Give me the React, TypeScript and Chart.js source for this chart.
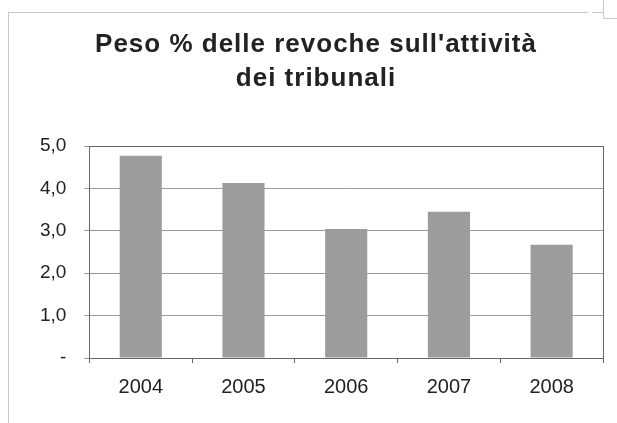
import { useEffect, useRef } from 'react';
import { Chart, registerables } from 'chart.js';

Chart.register(...registerables);

const years = ['2004', '2005', '2006', '2007', '2008'];
const pesoRevoche = [4.77, 4.13, 3.04, 3.45, 2.67];
const yTickLabels = ['-', '1,0', '2,0', '3,0', '4,0', '5,0'];
const titleLines = ["Peso % delle revoche sull'attività", 'dei tribunali'];

const FONT = '"Liberation Sans", Arial, sans-serif';

const framePlugin = {
  id: 'frame',
  beforeDraw(chart: any) {
    const { ctx, width, height } = chart;
    ctx.save();
    ctx.fillStyle = '#ffffff';
    ctx.fillRect(0, 0, width, height);
    ctx.strokeStyle = '#c8c8c8';
    ctx.lineWidth = 1;
    ctx.beginPath();
    ctx.moveTo(8.5, height);
    ctx.lineTo(8.5, 12.5);
    ctx.lineTo(588, 12.5);
    ctx.moveTo(592, 12.5);
    ctx.lineTo(603.5, 12.5);
    ctx.moveTo(603.5, 0);
    ctx.lineTo(603.5, 18.5);
    ctx.lineTo(width, 18.5);
    ctx.stroke();
    ctx.restore();
  },
  afterDraw(chart: any) {
    const { ctx, chartArea } = chart;
    ctx.save();
    ctx.strokeStyle = '#666666';
    ctx.lineWidth = 1;
    ctx.strokeRect(
      Math.round(chartArea.left) + 0.5,
      Math.round(chartArea.top) + 0.5,
      Math.round(chartArea.right - chartArea.left),
      Math.round(chartArea.bottom - chartArea.top)
    );
    // title
    ctx.fillStyle = '#222222';
    ctx.font = `bold 26px ${FONT}`;
    ctx.textAlign = 'center';
    ctx.textBaseline = 'alphabetic';
    try {
      (ctx as any).letterSpacing = '1px';
    } catch (e) {}
    ctx.fillText(titleLines[0], 316, 52);
    ctx.fillText(titleLines[1], 316, 86);
    ctx.restore();
  },
};

export default function App() {
  const ref = useRef<HTMLCanvasElement | null>(null);

  useEffect(() => {
    if (!ref.current) return;
    const chart = new Chart(ref.current, {
      type: 'bar',
      data: {
        labels: years,
        datasets: [
          {
            data: pesoRevoche,
            backgroundColor: '#9c9c9c',
            borderWidth: 0,
            barPercentage: 0.41,
            categoryPercentage: 1,
          },
        ],
      },
      options: {
        responsive: false,
        animation: false,
        devicePixelRatio: 1,
        layout: { padding: { left: 22, right: 14, top: 146, bottom: 12 } },
        plugins: {
          legend: { display: false },
          title: { display: false },
          tooltip: { enabled: false },
        },
        scales: {
          x: {
            grid: {
              drawOnChartArea: false,
              drawTicks: true,
              tickLength: 5,
              color: '#666666',
            },
            border: { color: '#666666' },
            ticks: {
              color: '#222222',
              font: { family: FONT, size: 20 },
              padding: 12,
            },
          },
          y: {
            min: 0,
            max: 5,
            grid: { color: '#9a9a9a', tickLength: 5 },
            border: { color: '#666666' },
            ticks: {
              stepSize: 1,
              color: '#222222',
              font: { family: FONT, size: 19 },
              padding: 18,
              callback: (_v: any, i: number) => yTickLabels[i],
            },
          },
        },
      },
      plugins: [framePlugin],
    });
    return () => chart.destroy();
  }, []);

  return (
    <div style={{ position: 'fixed', left: 0, top: 0, width: 617, height: 423 }}>
      <canvas ref={ref} width={617} height={423} style={{ width: 617, height: 423, display: 'block' }} />
    </div>
  );
}
